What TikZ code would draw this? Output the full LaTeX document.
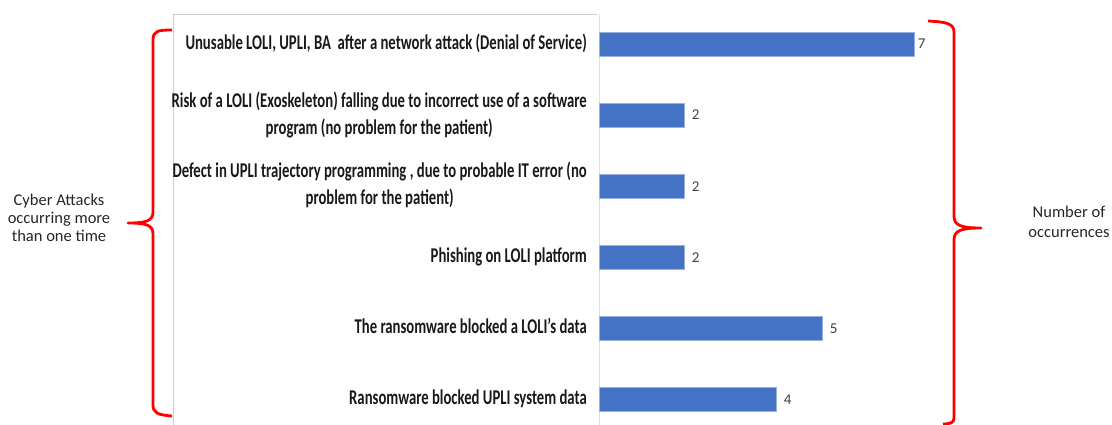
\documentclass[tikz,border=0pt]{standalone}
\usepackage{fontspec}
\setmainfont{Carlito}
\usepackage{graphicx}
\definecolor{barblue}{HTML}{4472C4}
\definecolor{bracered}{HTML}{FF0000}
\newcommand{\attack}[1]{\scalebox{0.7}[1]{\begin{tabular}{@{}c@{}}#1\end{tabular}}}

\begin{document}
\begin{tikzpicture}[x=1pt, y=-1pt,
		attacklabel/.style={anchor=east, inner sep=0pt, font=\fontsize{21}{27}\selectfont\bfseries, text=black!90},
		bar/.style={anchor=west, fill=barblue, draw=barblue!55!white, line width=0.6pt, minimum height=24pt, inner sep=0pt},
		count/.style={anchor=west, inner sep=0pt, font=\fontsize{15}{17}\selectfont, text=black!75},
		note/.style={align=center, text=black!85},
		curly/.style={draw=bracered, line width=2.8pt, line join=round}]
	\useasboundingbox (0,0) rectangle (1112,425);
	% label panel and axis
	\draw[black!20, line width=0.8pt] (173,425) -- (173,14) -- (597,14);
	\draw[black!12, line width=0.8pt] (599,14) -- (599,425);
	% bars (axis zero at x=592, 46 per occurrence)
	\node[bar, minimum width=315pt] (dos) at (599,44) {};
	\node[bar, minimum width=85pt] (fall) at (599,115.1) {};
	\node[bar, minimum width=85pt] (traj) at (599,186.2) {};
	\node[bar, minimum width=85pt] (phish) at (599,257.3) {};
	\node[bar, minimum width=223pt] (ransomloli) at (599,328.4) {};
	\node[bar, minimum width=177pt] (ransomupli) at (599,399.5) {};
	\node[count] (ndos) at ([xshift=3pt]dos.east) {7};
	\node[count] (nfall) at ([xshift=7pt]fall.east) {2};
	\node[count] (ntraj) at ([xshift=7pt]traj.east) {2};
	\node[count] (nphish) at ([xshift=7pt]phish.east) {2};
	\node[count] (nransomloli) at ([xshift=7pt]ransomloli.east) {5};
	\node[count] (nransomupli) at ([xshift=7pt]ransomupli.east) {4};
	% category labels
	\node[attacklabel] (ldos) at (587,44) {\attack{Unusable LOLI, UPLI, BA\ \ after a network attack (Denial of Service)}};
	\node[attacklabel] (lfall) at (587,116) {\attack{Risk of a LOLI (Exoskeleton) falling due to incorrect use of a software\\program (no problem for the patient)}};
	\node[attacklabel] (ltraj) at (587,186) {\attack{Defect in UPLI trajectory programming , due to probable IT error (no\\problem for the patient)}};
	\node[attacklabel] (lphish) at (587,257.3) {\attack{Phishing on LOLI platform}};
	\node[attacklabel] (lransomloli) at (587,328.4) {\attack{The ransomware blocked a LOLI's data}};
	\node[attacklabel] (lransomupli) at (587,399.5) {\attack{Ransomware blocked UPLI system data}};
	% braces
	\draw[curly] (172,30) .. controls (158,30) and (153,31) .. (153,40) -- (153,212)
		.. controls (153,221) and (146,223) .. (128,223)
		.. controls (146,223) and (153,225) .. (153,234) -- (153,405)
		.. controls (153,413) and (158,415) .. (172,416);
	\draw[curly] (928,21) .. controls (945,22) and (954,23) .. (954,32) -- (954,216)
		.. controls (954,225) and (960,228) .. (981,228)
		.. controls (960,228) and (954,231) .. (954,240) -- (954,418)
		.. controls (954,423) and (950,424) .. (943,424);
	\node[note, font=\fontsize{16.5}{18}\selectfont] (cyber) at (59,218) {Cyber Attacks\\occurring more\\than one time};
	\node[note, font=\fontsize{16.5}{20}\selectfont] (occ) at (1069,222) {Number of\\occurrences};
\end{tikzpicture}
\end{document}
